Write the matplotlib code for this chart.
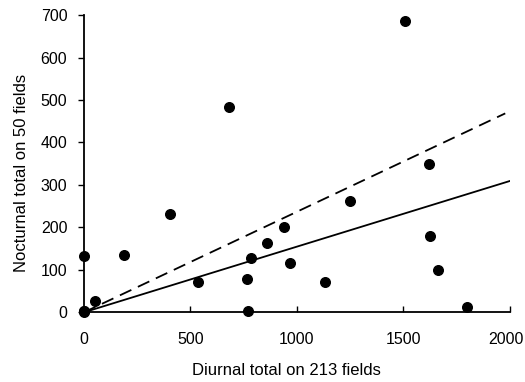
import matplotlib
matplotlib.use("Agg")
import matplotlib.pyplot as plt
import matplotlib.transforms as mtransforms
import numpy as np

plt.rcParams['font.family'] = ['Liberation Sans', 'DejaVu Sans']

diurnal = [0, 0, 0, 0, 50, 190, 405, 680, 535, 768, 770, 786, 862, 942, 970,
           1131, 1250, 1507, 1620, 1628, 1662, 1800]
nocturnal = [0, 2, 4, 133, 27, 134, 232, 484, 72, 78, 4, 129, 163, 200, 115,
             72, 262, 687, 349, 180, 100, 13]

solid_slope = 0.1545
solid_x = [0, 2000]
dashed_slope = 0.2366
dashed_x = [0, 1980]

xticks = [0, 500, 1000, 1500, 2000]
yticks = [0, 100, 200, 300, 400, 500, 600, 700]

fig = plt.figure(figsize=(5.25, 3.82), dpi=100)
ax = fig.add_axes([0.16, 0.1825, 0.8105, 0.778])

ax.plot(solid_x, [solid_slope * x for x in solid_x], color='black', lw=1.3)
ax.plot(dashed_x, [dashed_slope * x for x in dashed_x], color='black', lw=1.3,
        dashes=(7, 4))
ax.scatter(diurnal, nocturnal, s=48, color='black', zorder=3, clip_on=False)

ax.set_xlim(0, 2000)
ax.set_ylim(0, 700)
ax.set_xticks(xticks)
ax.set_yticks(yticks)
ax.tick_params(axis='x', direction='in', length=4, width=1, labelsize=11.5, pad=14)
ax.tick_params(axis='y', direction='out', length=4, width=1, labelsize=11.5, pad=8)
for s in ['top', 'right']:
    ax.spines[s].set_visible(False)
for s in ['left', 'bottom']:
    ax.spines[s].set_linewidth(1.3)

# shift last x tick label slightly left so it fits in the figure
last = ax.get_xticklabels()[-1]
last.set_transform(last.get_transform() +
                   mtransforms.ScaledTranslation(-4 / 100, 0, fig.dpi_scale_trans))

ax.set_xlabel('Diurnal total on 213 fields', fontsize=12, labelpad=12)
ax.xaxis.label.set_x(0.475)
ax.set_ylabel('Nocturnal total on 50 fields', fontsize=12, labelpad=8)
ax.yaxis.label.set_y(0.47)

fig.savefig('out.png', dpi=100)
